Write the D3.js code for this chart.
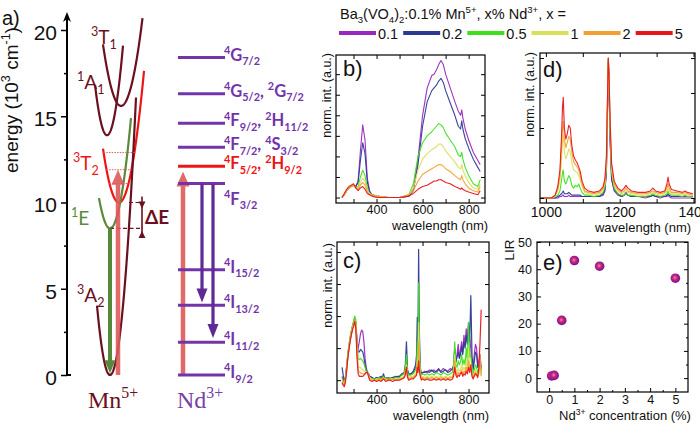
<!DOCTYPE html>
<html><head><meta charset="utf-8">
<script src="https://cdn.jsdelivr.net/npm/d3@7"></script>
<style>body{margin:0;background:#fff}svg{display:block}text{white-space:pre}</style>
</head><body>
<svg id="chart" width="700" height="425"></svg>
<script>
// ---------------- DATA ----------------
const seriesNames = ["0.1","0.2","0.5","1","2","5"];
const seriesColors = ["#9a28bf","#2c3a92","#3ee01e","#d8e05a","#f2a033","#e8161b"];
const headerText = "Ba_{3}(VO_{4})_{2}:0.1% Mn^{5+}, x% Nd^{3+}, x =";

// panel a : Mn5+ configurational diagram
const energyTicks = [0,5,10,15,20];
const energyMinor = [2.5,7.5,12.5,17.5];
const mnLabels = ["^{3}T_{1}","^{1}A_{1}","^{3}T_{2}","^{1}E","^{3}A_{2}"];
const mnMinQ  = [54,40,52,43,43];
const mnMinE  = [15.6,13.9,10.0,8.5,0];
const mnCurv  = [0.011,0.0203,0.0122,0.0145,0.0238];
const mnQFrom = [36,28,36,32,30];
const mnQTo   = [75.5,56,77,64,69];
const t2VibLevels = [12.9,11.9,11.1];
const mnExcite = {q:51, from:0, to:11.9};
const mnEmit   = {q:43, from:8.5, to:0.1};
const deltaE   = {from:10.0, to:8.5};

// Nd3+ levels
const ndLevelE = [18.4,16.3,14.6,13.2,12.1,11.1,6.1,4.05,1.9,0];
const ndLevelLabels = ["^{4}G_{7/2}","^{4}G_{5/2}, ^{2}G_{7/2}","^{4}F_{9/2}, ^{2}H_{11/2}","^{4}F_{7/2}, ^{4}S_{3/2}","^{4}F_{5/2}, ^{2}H_{9/2}","^{4}F_{3/2}","^{4}I_{15/2}","^{4}I_{13/2}","^{4}I_{11/2}","^{4}I_{9/2}"];
const ndPumpLevel = 4;
const ndExcite = {from:0, to:11.8};
const ndEmitTo = [4.2, 2.15];

// panel b : excitation spectra
const wlB = [250,260,270,280,290,300,310,320,330,340,350,360,370,380,400,450,500,540,560,580,600,620,640,650,660,670,680,690,700,720,740,755,765,770,775,785,800,820,840,850];
const b01 = [0.0,0.02,0.05,0.07,0.08,0.09,0.08,0.12,0.34,0.53,0.42,0.14,0.05,0.02,0.01,0.0,0.0,0.01,0.06,0.28,0.6,0.8,0.89,0.9,0.93,0.97,1.0,0.97,0.9,0.8,0.7,0.63,0.6,0.64,0.58,0.5,0.42,0.33,0.27,0.24];
const b02 = [0.0,0.02,0.05,0.07,0.08,0.09,0.08,0.11,0.27,0.40,0.32,0.11,0.04,0.02,0.01,0.0,0.0,0.01,0.05,0.24,0.52,0.7,0.78,0.8,0.82,0.85,0.87,0.84,0.78,0.69,0.6,0.52,0.5,0.56,0.5,0.43,0.36,0.28,0.22,0.19];
const b05 = [0.0,0.02,0.05,0.07,0.08,0.09,0.07,0.08,0.15,0.2,0.16,0.07,0.03,0.02,0.01,0.0,0.0,0.02,0.1,0.3,0.4,0.45,0.48,0.5,0.52,0.54,0.53,0.51,0.47,0.42,0.37,0.31,0.3,0.33,0.28,0.22,0.16,0.1,0.08,0.13];
const b1  = [0.0,0.02,0.05,0.07,0.08,0.09,0.07,0.07,0.11,0.14,0.12,0.05,0.03,0.02,0.01,0.0,0.0,0.02,0.07,0.2,0.28,0.32,0.35,0.36,0.37,0.39,0.39,0.37,0.34,0.3,0.26,0.22,0.21,0.24,0.2,0.16,0.11,0.07,0.06,0.1];
const b2  = [0.0,0.02,0.05,0.07,0.08,0.09,0.07,0.06,0.09,0.11,0.09,0.04,0.02,0.02,0.01,0.0,0.0,0.02,0.05,0.12,0.17,0.19,0.21,0.22,0.23,0.24,0.24,0.23,0.21,0.19,0.16,0.14,0.13,0.16,0.13,0.1,0.07,0.05,0.04,0.08];
const b5  = [0.0,0.03,0.06,0.08,0.09,0.1,0.07,0.05,0.07,0.08,0.06,0.03,0.02,0.01,0.0,0.0,0.0,0.01,0.03,0.06,0.08,0.09,0.11,0.12,0.12,0.13,0.13,0.12,0.11,0.1,0.08,0.07,0.06,0.07,0.06,0.05,0.04,0.03,0.02,0.05];
const bXTicks = [300,400,500,600,700,800];
const bYTicks = [0,0.15,0.3,0.45,0.6,0.75,0.9];

// panel c : emission spectra (visible)
const wlC = [250,255,260,265,270,275,280,285,290,295,300,305,310,315,320,325,330,335,340,345,350,355,360,365,370,380,390,400,410,420,425,430,435,440,450,460,470,480,490,500,510,520,525,530,535,540,550,560,570,574,577,580,583,586,590,595,600,610,620,630,640,650,660,670,680,690,700,710,720,730,735,740,745,750,755,760,765,770,775,780,785,790,795,800,805,810,815,820,825,830,835,840,845,850,855];
const c01 = [0.03,0.0,-0.04,0.02,0.1,0.18,0.25,0.31,0.36,0.4, 0.44,0.47,0.45,0.3,0.25,0.3,0.36,0.39,0.38,0.3, 0.17,0.1,0.06,0.05,0.03,0.02,0.01,0.02,0.01,0.02, 0.01,0.03,0.02,0.01,0.02,0.01,0.02,0.03,0.02,0.03, 0.04,0.05,0.08,0.15,0.06,0.04,0.05,0.06,0.1,0.15, 0.3,0.2,0.55,0.25,0.08,0.05,0.06,0.07,0.06,0.08, 0.07,0.08,0.06,0.08,0.07,0.09,0.08,0.07,0.09,0.08, 0.1,0.22,0.15,0.2,0.28,0.18,0.24,0.3,0.22,0.35, 0.28,0.4,0.3,0.42,0.33,0.25,0.12,0.1,0.2,0.28, 0.25,0.12,0.15,0.2,0.1];
const c02 = [0.1,0.04,-0.02,0.03,0.11,0.2,0.27,0.33,0.38,0.42, 0.45,0.48,0.44,0.3,0.22,0.22,0.24,0.23,0.22,0.18, 0.12,0.08,0.06,0.05,0.03,0.02,0.01,0.02,0.02,0.03, 0.02,0.05,0.02,0.02,0.01,0.02,0.02,0.02,0.03,0.03, 0.05,0.06,0.12,0.3,0.08,0.05,0.05,0.07,0.12,0.2, 0.49,0.3,1.02,0.4,0.1,0.05,0.06,0.06,0.07,0.06, 0.08,0.06,0.07,0.09,0.06,0.07,0.08,0.06,0.07,0.09, 0.12,0.25,0.14,0.18,0.22,0.17,0.2,0.26,0.2,0.3, 0.25,0.35,0.28,0.45,0.3,0.66,0.2,0.08,0.15,0.22, 0.2,0.1,0.12,0.15,0.08];
const c05 = [0.02,-0.01,-0.03,0.02,0.1,0.2,0.27,0.33,0.38,0.42, 0.46,0.5,0.47,0.3,0.17,0.16,0.17,0.16,0.15,0.13, 0.1,0.07,0.06,0.04,0.02,0.01,0.01,0.01,0.02,0.01, 0.02,0.03,0.01,0.02,0.01,0.02,0.01,0.02,0.02,0.02, 0.04,0.05,0.1,0.2,0.06,0.04,0.04,0.05,0.08,0.12, 0.3,0.2,0.76,0.3,0.08,0.04,0.05,0.04,0.05,0.04, 0.05,0.04,0.06,0.05,0.04,0.06,0.05,0.04,0.05,0.06, 0.1,0.3,0.12,0.1,0.15,0.12,0.14,0.2,0.12,0.16, 0.12,0.25,0.15,0.45,0.18,0.2,0.1,0.05,0.08,0.12, 0.1,0.06,0.08,0.12,0.06];
const c1  = [0.0,-0.02,-0.03,0.01,0.09,0.19,0.26,0.32,0.37,0.41, 0.44,0.47,0.44,0.25,0.11,0.1,0.1,0.09,0.08,0.07, 0.07,0.06,0.06,0.04,0.02,0.01,0.0,0.01,0.01,0.0, 0.01,0.02,0.01,0.01,0.0,0.01,0.01,0.0,0.01,0.01, 0.02,0.03,0.06,0.12,0.04,0.02,0.03,0.03,0.05,0.07, 0.15,0.1,0.45,0.18,0.05,0.02,0.03,0.02,0.03,0.02, 0.03,0.02,0.03,0.02,0.03,0.02,0.03,0.02,0.03,0.03, 0.06,0.2,0.08,0.06,0.09,0.07,0.08,0.12,0.08,0.1, 0.08,0.15,0.1,0.25,0.1,0.12,0.06,0.03,0.05,0.08, 0.06,0.04,0.06,0.1,0.04];
const c2  = [-0.01,-0.03,-0.04,0.0,0.08,0.18,0.25,0.31,0.36,0.4, 0.43,0.46,0.42,0.22,0.08,0.06,0.06,0.05,0.05,0.05, 0.05,0.06,0.06,0.04,0.01,0.0,0.0,0.0,0.01,0.0, 0.0,0.02,0.0,0.01,0.0,0.0,0.01,0.0,0.0,0.01, 0.01,0.02,0.05,0.1,0.03,0.01,0.02,0.02,0.04,0.05, 0.12,0.08,0.3,0.12,0.04,0.01,0.02,0.01,0.02,0.01, 0.02,0.01,0.02,0.01,0.02,0.01,0.02,0.01,0.02,0.02, 0.05,0.15,0.06,0.04,0.06,0.05,0.06,0.08,0.05,0.07, 0.06,0.1,0.07,0.15,0.08,0.09,0.04,0.02,0.04,0.06, 0.05,0.03,0.05,0.2,0.03];
const c5  = [-0.02,-0.04,-0.05,-0.01,0.07,0.17,0.24,0.3,0.35,0.39, 0.42,0.46,0.4,0.18,0.05,0.03,0.03,0.03,0.03,0.04, 0.05,0.06,0.06,0.03,0.0,-0.01,0.0,-0.01,0.0,-0.01, 0.0,0.01,0.0,-0.01,0.0,0.0,-0.01,0.0,0.0,0.0, 0.01,0.02,0.04,0.1,0.02,0.0,0.01,0.01,0.03,0.04, 0.1,0.06,0.15,0.08,0.03,0.0,0.01,0.0,0.01,0.0, 0.0,0.01,0.0,0.01,0.0,0.01,0.0,0.01,0.0,0.01, 0.03,0.1,0.04,0.02,0.04,0.03,0.05,0.06,0.03,0.05, 0.04,0.07,0.05,0.1,0.06,0.12,0.03,0.01,0.03,0.05, 0.04,0.02,0.1,0.3,0.55];
const cYTicks = [0,0.25,0.5,0.75,1.0];

// panel d : NIR emission spectra
const wlD = [985,1000,1015,1025,1032,1038,1042,1045,1047,1050,1054,1058,1062,1066,1070,1075,1080,1085,1089,1093,1098,1105,1115,1130,1145,1155,1160,1164,1167,1169,1171,1174,1178,1185,1195,1205,1212,1217,1222,1232,1250,1270,1283,1290,1297,1310,1322,1328,1331,1334,1340,1355,1370,1377,1383,1398];
const d01 = [0,0,0,0,0,0.01,0.01,0.02,0.02,0.01, 0.01,0.01,0.02,0.01,0.01,0.01,0.01,0.01,0.01,0.01, 0.01,0.01,0.01,0.01,0.01,0.02,0.05,0.18,0.62,0.97, 0.8,0.4,0.13,0.05,0.02,0.01,0.02,0.04,0.02,0.01, 0.01,0,0.01,0.02,0.01,0,0.01,0.01,0.02,0.01, 0,0,0,0,0,0];
const d02 = [0,0,0,0,0.01,0.02,0.03,0.04,0.05,0.03, 0.03,0.03,0.04,0.03,0.02,0.02,0.02,0.02,0.02,0.02, 0.01,0.01,0.01,0.01,0.01,0.03,0.06,0.2,0.65,0.98, 0.82,0.42,0.14,0.06,0.03,0.01,0.02,0.03,0.02,0.01, 0.01,0.01,0.01,0.02,0.01,0.01,0.01,0.02,0.03,0.02, 0.01,0.01,0.01,0.01,0.01,0.01];
const d05 = [0,0,0,0.01,0.02,0.05,0.12,0.18,0.2,0.12, 0.1,0.13,0.16,0.14,0.09,0.07,0.09,0.08,0.1,0.07, 0.04,0.02,0.02,0.01,0.02,0.04,0.08,0.22,0.68,1.0, 0.86,0.48,0.18,0.07,0.03,0.02,0.02,0.03,0.02,0.02, 0.01,0.01,0.02,0.03,0.02,0.01,0.02,0.03,0.05,0.03, 0.02,0.02,0.01,0.02,0.01,0.01];
const d1  = [0,0,0,0.01,0.05,0.12,0.27,0.4,0.45,0.33, 0.28,0.31,0.35,0.33,0.26,0.2,0.19,0.18,0.16,0.13, 0.08,0.04,0.03,0.02,0.03,0.06,0.1,0.25,0.7,1.0, 0.87,0.5,0.2,0.09,0.05,0.03,0.04,0.05,0.04,0.03, 0.02,0.02,0.03,0.04,0.03,0.02,0.03,0.05,0.07,0.05, 0.03,0.03,0.02,0.03,0.02,0.02];
const d2  = [0,0,0,0.02,0.06,0.16,0.35,0.5,0.55,0.42, 0.36,0.4,0.44,0.42,0.33,0.26,0.24,0.22,0.2,0.16, 0.1,0.05,0.04,0.03,0.04,0.07,0.12,0.28,0.72,1.0, 0.88,0.52,0.22,0.1,0.06,0.04,0.05,0.07,0.05,0.04, 0.03,0.03,0.04,0.05,0.04,0.03,0.04,0.07,0.1,0.07, 0.04,0.04,0.03,0.04,0.03,0.02];
const d5  = [0,0,0,0.02,0.08,0.2,0.42,0.65,0.72,0.5, 0.42,0.46,0.52,0.5,0.38,0.3,0.27,0.25,0.22,0.19, 0.12,0.07,0.05,0.04,0.05,0.08,0.14,0.3,0.75,1.0, 0.9,0.55,0.25,0.12,0.07,0.05,0.07,0.09,0.07,0.05, 0.04,0.04,0.05,0.07,0.05,0.04,0.05,0.1,0.15,0.1, 0.06,0.05,0.04,0.05,0.04,0.03];
const dXTicks = [1000,1100,1200,1300,1400];
const dYTicks = [0,0.25,0.5,0.75,1.0];

// panel e : LIR vs Nd concentration
const ndConc = [0.1,0.2,0.5,1,2,5];
const lirVals = [0.8,1.0,21.2,43.2,41.1,36.7];
const eXTicks = [0,1,2,3,4,5];
const eYTicks = [0,10,20,30,40,50];

// ---------------- DRAWING ----------------
const svg = d3.select("#chart");
const defs = svg.append("defs");
const SANS = "'Liberation Sans', Arial, sans-serif";
const LATO = "Lato, 'Open Sans', sans-serif";
const SERIF = "'Liberation Serif', 'DejaVu Serif', serif";
const DARK = "#6b1020", RED = "#ee1515", GREEN = "#5a8a3a", PURPLE = "#7234a8";

function rich(sel, markup, size){
  const parts = markup.match(/\^\{[^}]*\}|_\{[^}]*\}|[^\^_]+/g);
  let off = 0;
  parts.forEach(p=>{
    let txt, target, fs;
    if(p[0]==='^'){txt=p.slice(2,-1); target=-0.4*size; fs=0.66*size;}
    else if(p[0]==='_'){txt=p.slice(2,-1); target=0.28*size; fs=0.66*size;}
    else {txt=p; target=0; fs=size;}
    sel.append("tspan").attr("dy", target-off).attr("font-size", fs).text(txt);
    off = target;
  });
  return sel;
}
function label(x,y,markup,size,opts={}){
  const t = svg.append("text").attr("x",x).attr("y",y)
    .attr("font-family",opts.family||SANS).attr("font-size",size)
    .attr("fill",opts.fill||"#111").attr("font-weight",opts.weight||"normal")
    .attr("text-anchor",opts.anchor||"start");
  if(opts.rotate) t.attr("transform",`rotate(${opts.rotate},${x},${y})`);
  rich(t, markup, size);
  return t;
}

// ----- panel a -----
const eScale = d3.scaleLinear().domain([0,20]).range([375,30]);
const qScale = d3.scaleLinear().domain([0,240]).range([67,307]);

label(2,25,"a)",20);
label(18,100,"energy (10^{3} cm^{-1})",19,{anchor:"middle",rotate:-90});

const eAxis = svg.append("g").attr("transform","translate(67,0)")
  .call(d3.axisLeft(eScale).tickValues(energyTicks).tickSizeInner(6).tickSizeOuter(0).tickPadding(4));
eAxis.select(".domain").remove();
eAxis.selectAll("text").attr("font-family",SANS).attr("font-size",21).attr("fill","#111").attr("dy","0.45em");
eAxis.selectAll("line").attr("stroke","#000").attr("stroke-width",1.5);
const eMinor = svg.append("g").attr("transform","translate(67,0)")
  .call(d3.axisLeft(eScale).tickValues(energyMinor).tickSizeInner(3).tickSizeOuter(0).tickFormat(""));
eMinor.select(".domain").remove();
eMinor.selectAll("line").attr("stroke","#000").attr("stroke-width",1.5);
svg.append("line").attr("x1",67).attr("x2",67).attr("y1",eScale(0)).attr("y2",16).attr("stroke","#000").attr("stroke-width",2);
svg.append("line").attr("x1",67).attr("x2",71).attr("y1",eScale(0)).attr("y2",eScale(0)).attr("stroke","#000").attr("stroke-width",2);
svg.append("path").attr("d",`M67,12 L63,22 L67,19 L71,22 Z`).attr("fill","#000");

function arrow(x, yFrom, yTip, color, shaft, hw, hh, opacity=1){
  const dir = yTip < yFrom ? -1 : 1;
  const g = svg.append("g").attr("opacity",opacity);
  g.append("line").attr("x1",x).attr("x2",x).attr("y1",yFrom).attr("y2",yTip - dir*hh*0.7)
    .attr("stroke",color).attr("stroke-width",shaft);
  g.append("path").attr("d",`M${x},${yTip} L${x-hw},${yTip-dir*hh} L${x+hw},${yTip-dir*hh} Z`).attr("fill",color);
  return g;
}

const mnColors = [DARK, DARK, RED, GREEN, DARK];
const parabola = d3.line().x(d=>qScale(d[0])).y(d=>eScale(d[1]));
mnLabels.forEach((lab,i)=>{
  const pts = d3.range(mnQFrom[i], mnQTo[i]+0.001, 0.25).map(q=>[q, mnMinE[i]+mnCurv[i]*(q-mnMinQ[i])**2]);
  if(pts[pts.length-1][0] < mnQTo[i]) pts.push([mnQTo[i], mnMinE[i]+mnCurv[i]*(mnQTo[i]-mnMinQ[i])**2]);
  svg.append("path").attr("d",parabola(pts)).attr("fill","none").attr("stroke",mnColors[i]).attr("stroke-width",2.2);
});
t2VibLevels.forEach(E=>{
  const dq = Math.sqrt((E-mnMinE[2])/mnCurv[2]);
  svg.append("line").attr("x1",qScale(mnMinQ[2]-dq)).attr("x2",qScale(mnMinQ[2]+dq))
    .attr("y1",eScale(E)).attr("y2",eScale(E)).attr("stroke","#e06060").attr("stroke-width",1).attr("stroke-dasharray","1.5,1.2");
});
svg.append("line").attr("x1",qScale(mnMinQ[3])).attr("x2",qScale(76)).attr("y1",eScale(deltaE.to)).attr("y2",eScale(deltaE.to))
  .attr("stroke",DARK).attr("stroke-width",1.2).attr("stroke-dasharray","4,2.5");
svg.append("line").attr("x1",qScale(62)).attr("x2",qScale(77)).attr("y1",eScale(deltaE.from)).attr("y2",eScale(deltaE.from))
  .attr("stroke",DARK).attr("stroke-width",1.2).attr("stroke-dasharray","4,2.5");
arrow(qScale(mnExcite.q), eScale(mnExcite.from), eScale(mnExcite.to), "#dd5a5a", 4.5, 6.5, 15, 0.9);
arrow(qScale(mnEmit.q), eScale(mnEmit.from), eScale(mnEmit.to), "#56883a", 4, 5.5, 13);
const dEx = qScale(75);
svg.append("line").attr("x1",dEx).attr("x2",dEx).attr("y1",eScale(deltaE.from+0.35)).attr("y2",eScale(deltaE.to-0.5)).attr("stroke",DARK).attr("stroke-width",1.6);
svg.append("path").attr("d",`M${dEx},${eScale(deltaE.from-0.35)} l-3.5,-7 l7,0 Z`).attr("fill",DARK);
svg.append("path").attr("d",`M${dEx},${eScale(deltaE.to-0.15)} l-3.5,7 l7,0 Z`).attr("fill",DARK);
label(145,224,"ΔE",19,{fill:DARK,family:LATO,weight:"bold"});

const mnLabPos = [[91,44],[77,89],[73,170],[71,225],[77,302]];
mnLabels.forEach((lab,i)=>label(mnLabPos[i][0],mnLabPos[i][1],lab,19,{fill:mnColors[i],family:LATO}));

const ndX1 = qScale(111), ndX2 = qScale(158);
arrow(qScale(116), eScale(ndExcite.from), eScale(ndExcite.to), "#dd5a5a", 4.5, 6.5, 15, 0.9);
ndLevelE.forEach((E,i)=>{
  const col = i===ndPumpLevel ? RED : PURPLE;
  svg.append("line").attr("x1",ndX1).attr("x2",ndX2).attr("y1",eScale(E)).attr("y2",eScale(E))
    .attr("stroke",col).attr("stroke-width",3);
  const dy = i===5 ? 21 : 3;
  label(qScale(157), eScale(E)+dy, ndLevelLabels[i], 16.5, {fill:col, family:LATO, weight:"bold"});
});
const ndEmitQ = [135,146];
ndEmitTo.forEach((E,i)=>arrow(qScale(ndEmitQ[i]), eScale(ndLevelE[5]), eScale(E), "#5f2a96", 3.2, 5.5, 14));

label(88,408,"Mn^{5+}",24,{fill:DARK,family:SERIF});
label(177,408,"Nd^{3+}",24,{fill:"#7a40a8",family:SERIF});

// ----- header & legend -----
label(340,19,headerText,14.5);
let lx = 339;
seriesNames.forEach((n,i)=>{
  svg.append("line").attr("x1",lx).attr("x2",lx+37).attr("y1",33).attr("y2",33).attr("stroke",seriesColors[i]).attr("stroke-width",4);
  const t = label(lx+39,38.5,n,14.5);
  lx += 39 + t.node().getComputedTextLength() + 5;
});

// ----- spectra panels -----
function styleAxis(g, fs){
  g.selectAll("text").attr("font-family",SANS).attr("font-size",fs).attr("fill","#111");
  g.selectAll("line").attr("stroke","#000");
  g.select(".domain").remove();
}
function drawPanel(p){
  const x = d3.scaleLinear().domain(p.xDomain).range([p.L,p.R]);
  const y = d3.scaleLinear().domain(p.yDomain).range([p.B,p.T]);
  const cid = "clip-"+p.id;
  defs.append("clipPath").attr("id",cid).append("rect").attr("x",p.L).attr("y",p.T).attr("width",p.R-p.L).attr("height",p.B-p.T);
  const g = svg.append("g");
  const plot = g.append("g").attr("clip-path",`url(#${cid})`);
  if(p.series){
    const ln = d3.line().x((d,j)=>x(p.wl[j])).y(d=>y(d));
    p.series.forEach((s,i)=>plot.append("path").attr("d",ln(s)).attr("fill","none")
      .attr("stroke",seriesColors[i]).attr("stroke-width",p.lw).attr("stroke-linejoin","round").attr("opacity",0.95));
  }
  g.append("g").attr("transform",`translate(0,${p.B})`)
    .call(d3.axisBottom(x).tickValues(p.xTicks).tickSizeInner(-4).tickSizeOuter(0).tickPadding(p.xPad).tickFormat(p.xFmt))
    .call(styleAxis,p.xFont);
  g.append("g").attr("transform",`translate(0,${p.T})`)
    .call(d3.axisTop(x).tickValues(p.xTicks).tickSizeInner(-4).tickSizeOuter(0).tickFormat(""))
    .call(styleAxis,p.xFont);
  g.append("g").attr("transform",`translate(${p.L},0)`)
    .call(d3.axisLeft(y).tickValues(p.yTicks).tickSizeInner(-4).tickSizeOuter(0).tickPadding(p.yPad||6).tickFormat(p.yFmt||(()=>"")))
    .call(styleAxis,p.yFont||13);
  g.append("g").attr("transform",`translate(${p.R},0)`)
    .call(d3.axisRight(y).tickValues(p.yTicks).tickSizeInner(-4).tickSizeOuter(0).tickFormat(""))
    .call(styleAxis,13);
  if(p.yMinor){
    g.append("g").attr("transform",`translate(${p.L},0)`).call(d3.axisLeft(y).tickValues(p.yMinor).tickSizeInner(-2).tickSizeOuter(0).tickFormat("")).call(styleAxis,13);
    g.append("g").attr("transform",`translate(${p.R},0)`).call(d3.axisRight(y).tickValues(p.yMinor).tickSizeInner(-2).tickSizeOuter(0).tickFormat("")).call(styleAxis,13);
  }
  if(p.xMinor){
    g.append("g").attr("transform",`translate(0,${p.B})`).call(d3.axisBottom(x).tickValues(p.xMinor).tickSizeInner(-2).tickSizeOuter(0).tickFormat("")).call(styleAxis,13);
    g.append("g").attr("transform",`translate(0,${p.T})`).call(d3.axisTop(x).tickValues(p.xMinor).tickSizeInner(-2).tickSizeOuter(0).tickFormat("")).call(styleAxis,13);
  }
  g.append("rect").attr("x",p.L).attr("y",p.T).attr("width",p.R-p.L).attr("height",p.B-p.T)
    .attr("fill","none").attr("stroke","#000").attr("stroke-width",1.2);
  return {x,y,g};
}
const fmt200 = d=> d%200===0 ? d : "";

drawPanel({id:"b",L:336,R:485,T:55,B:203,xDomain:[224,871],yDomain:[-0.04,1.04],wl:wlB,
  series:[b01,b02,b05,b1,b2,b5],lw:1.1,xTicks:bXTicks,yTicks:bYTicks,xFmt:fmt200,xFont:12.5,xPad:2});
drawPanel({id:"c",L:337,R:489,T:242,B:393,xDomain:[228,889],yDomain:[-0.1,1.078],wl:wlC,
  series:[c01,c02,c05,c1,c2,c5],lw:1.2,xTicks:bXTicks,yTicks:cYTicks,xFmt:fmt200,xFont:12.5,xPad:2});
drawPanel({id:"d",L:540,R:695,T:53,B:203,xDomain:[984,1404],yDomain:[-0.036,1.036],wl:wlD,
  series:[d01,d02,d05,d1,d2,d5],lw:1.1,xTicks:dXTicks,yTicks:dYTicks,xFmt:fmt200,xFont:14,xPad:4});
const pe = drawPanel({id:"e",L:537,R:688,T:242,B:392,xDomain:[-0.48,5.5],yDomain:[-5.1,50],
  xTicks:eXTicks,yTicks:eYTicks,xFmt:d=>d,yFmt:d=>d,xFont:12.5,yFont:12.5,xPad:3,yPad:5,
  xMinor:[0.5,1.5,2.5,3.5,4.5],yMinor:[5,15,25,35,45]});

const grad = defs.append("radialGradient").attr("id","ball").attr("cx","45%").attr("cy","45%").attr("r","60%");
grad.append("stop").attr("offset","0%").attr("stop-color","#ff9a4a");
grad.append("stop").attr("offset","35%").attr("stop-color","#c8288f");
grad.append("stop").attr("offset","100%").attr("stop-color","#6e0a8a");
pe.g.selectAll("circle.pt").data(ndConc).enter().append("circle")
  .attr("cx",(d)=>pe.x(d)).attr("cy",(d,i)=>pe.y(lirVals[i])).attr("r",4.8).attr("fill","url(#ball)");

label(343,76,"b)",22);
label(543,77,"d)",22);
label(343,268,"c)",22);
label(543,270,"e)",22);
label(331,53,"norm. int. (a.u.)",12.5,{anchor:"end",rotate:-90});
label(534,52,"norm. int. (a.u.)",12.5,{anchor:"end",rotate:-90});
label(332,243,"norm. int. (a.u.)",12.5,{anchor:"end",rotate:-90});
label(440,230,"wavelength (nm)",13,{anchor:"middle"});
label(643,232,"wavelength (nm)",13,{anchor:"middle"});
label(441,420,"wavelength (nm)",13,{anchor:"middle"});
label(514,250,"LIR",13.5,{anchor:"middle",rotate:-90});
label(625,420,"Nd^{3+} concentration (%)",13,{anchor:"middle"});
</script>
</body></html>
